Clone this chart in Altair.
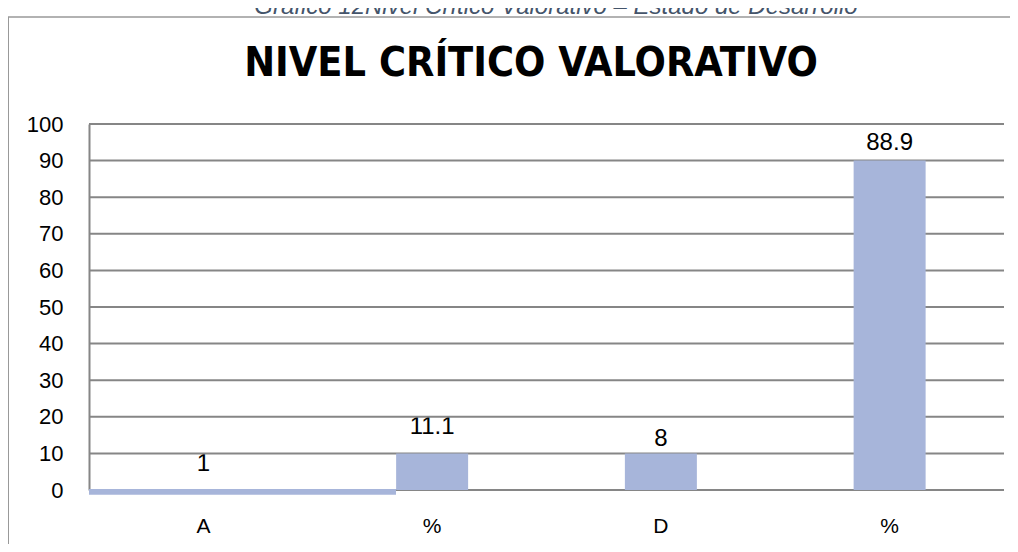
import altair as alt
import pandas as pd

# ---- data ----
categories = ["A", "%1", "D", "%2"]          # unique keys, shown as first character
label_values = [1, 11.1, 8, 88.9]              # data labels printed above bars
label_texts = ["1", "11.1", "8", "88.9"]
bar_tops = [0, 10, 10, 90]                      # bar heights as drawn
strip_from = ["A"]                              # thin strip drawn for category A
strip_to = ["%1"]
strip_top = [0.3]
strip_bottom = [-1.3]
y_ticks = [0, 10, 20, 30, 40, 50, 60, 70, 80, 90, 100]

title_text = "NIVEL CRÍTICO VALORATIVO"
caption_text = "Gráfico 12Nivel Crítico Valorativo – Estado de Desarrollo"

W, H = 915, 366
PAD = {"left": 81, "top": 116, "right": 6, "bottom": 54}

BAR = "#A7B5DA"
GRID = "#868686"

xscale = alt.Scale(domain=categories, paddingInner=0, paddingOuter=0)
yscale = alt.Scale(domain=[0, 100], nice=False, zero=False)

xaxis = alt.Axis(title=None, domain=False, ticks=False,
                 labelExpr="slice(datum.value, 0, 1)",
                 labelFont="Liberation Sans", labelFontSize=21,
                 labelColor="black", labelPadding=25, labelAngle=0)
yaxis = alt.Axis(title=None, values=y_ticks, grid=False, ticks=False,
                 domainColor=GRID, domainWidth=2,
                 labelFont="Liberation Sans", labelFontSize=22,
                 labelColor="black", labelPadding=26)

bars_df = pd.DataFrame({"cat": categories, "top": bar_tops,
                        "lv": label_values, "lt": label_texts})
grid_df = pd.DataFrame({"t": y_ticks})
strip_df = pd.DataFrame({"a": strip_from, "b": strip_to,
                         "y1": strip_top, "y2": strip_bottom})
one = pd.DataFrame({"k": [0]})

base = alt.Chart(bars_df)

labels = base.mark_text(font="Liberation Sans", fontSize=24, color="black",
                        baseline="alphabetic", dy=-15).encode(
    x=alt.X("cat:N", scale=xscale, sort=None, axis=xaxis),
    y=alt.Y("lv:Q", scale=yscale, axis=yaxis),
    text="lt:N",
)

grid = alt.Chart(grid_df).mark_rule(color=GRID, strokeWidth=2).encode(
    y=alt.Y("t:Q", scale=yscale, axis=yaxis),
    x=alt.value(0), x2=alt.value(W),
)

bars = base.mark_bar(color=BAR, size=72).encode(
    x=alt.X("cat:N", scale=xscale, sort=None, axis=xaxis),
    y=alt.Y("top:Q", scale=yscale, axis=yaxis),
)

strip = alt.Chart(strip_df).mark_rect(color=BAR).encode(
    x=alt.X("a:N", scale=xscale, sort=None, bandPosition=0, axis=xaxis),
    x2=alt.X2("b", bandPosition=0.342),
    y=alt.Y("y1:Q", scale=yscale, axis=yaxis),
    y2="y2:Q",
)

FRAME_Y = -107
frame_v = alt.Chart(one).mark_rule(color="#999999", strokeWidth=2).encode(
    x=alt.value(-PAD["left"]), y=alt.value(FRAME_Y), y2=alt.value(H + PAD["bottom"]))
frame_h = alt.Chart(one).mark_rule(color="#999999", strokeWidth=1.5).encode(
    x=alt.value(-PAD["left"]), x2=alt.value(W + PAD["right"]), y=alt.value(FRAME_Y))

title = alt.Chart(one).mark_text(
    text=title_text, font="Liberation Sans Narrow, DejaVu Sans Condensed",
    fontWeight="bold", fontSize=41, color="black",
    align="center", baseline="alphabetic").encode(
    x=alt.value(442), y=alt.value(-48))

caption = alt.Chart(one).mark_text(
    text=caption_text, font="Liberation Sans", fontStyle="italic",
    fontSize=24, color="#44546A", align="center", baseline="alphabetic").encode(
    x=alt.value(467), y=alt.value(-110))

chart = alt.layer(caption, title, frame_v, frame_h, labels, grid, bars, strip).properties(
    width=W, height=H,
    autosize=alt.AutoSizeParams(type="none"),
    padding=PAD,
).configure_view(stroke=None)

chart.save("out.html", embed_options={"renderer": "svg", "actions": False})
